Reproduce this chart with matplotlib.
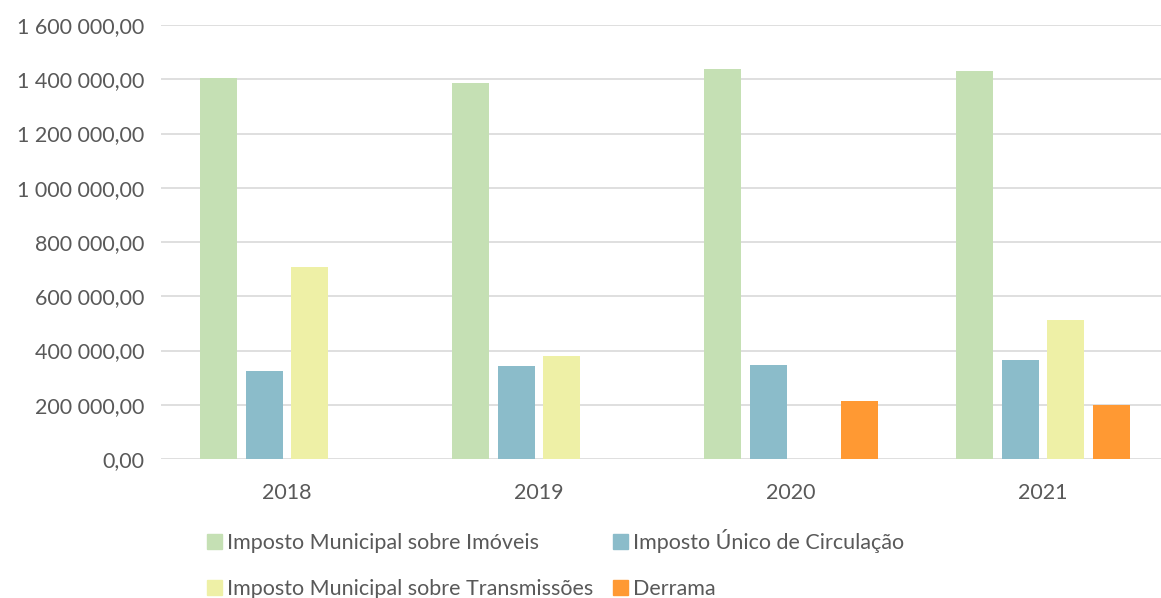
import numpy as np
import matplotlib.pyplot as plt
from matplotlib.ticker import FuncFormatter
from matplotlib.patches import Patch

years = ['2018', '2019', '2020', '2021']
series_names = ['Imposto Municipal sobre Imóveis', 'Imposto Único de Circulação',
                'Imposto Municipal sobre Transmissões', 'Derrama']
imi = [1405000, 1386000, 1438000, 1430000]
iuc = [324000, 343000, 346000, 365000]
imt = [708000, 380000, 0, 512000]
derrama = [0, 0, 214000, 199000]
colors = ['#C5E0B4', '#8BBCCA', '#EEF0A6', '#FF9933']

plt.rcParams['font.family'] = ['Lato', 'DejaVu Sans']

fig = plt.figure(figsize=(11.61, 5.98), dpi=100)
ax = fig.add_axes([161/1161, 1 - 459/598, 1008/1161, (459 - 25)/598])

x = np.arange(len(years))
width = 0.147
step = 0.181
for i, (vals, c) in enumerate(zip([imi, iuc, imt, derrama], colors)):
    ax.bar(x + (i - 1.5)*step, vals, width, color=c, zorder=3)

def fmt(v, p):
    return f'{v:,.2f}'.replace(',', ' ').replace('.', ',')

ax.set_xlim(-0.5, 3.5)
ax.set_ylim(0, 1600000)
ax.set_yticks(np.arange(0, 1600001, 200000))
ax.yaxis.set_major_formatter(FuncFormatter(fmt))
ax.set_xticks(x)
ax.set_xticklabels(years)
ax.grid(axis='y', color='#D9D9D9', lw=1.2, zorder=0)
for s in ax.spines.values():
    s.set_visible(False)
ax.tick_params(length=0, labelsize=15.5, colors='#595959', pad=12)
ax.tick_params(axis='x', pad=17)

# row-major order like the original legend
order = [0, 2, 1, 3]
handles = [Patch(color=colors[k]) for k in order]
labels = [series_names[k] for k in order]
fig.legend(handles, labels, loc='upper left', bbox_to_anchor=(196/1161, 1 - 518/598),
           ncol=2, frameon=False, fontsize=15.5, labelcolor='#595959',
           handlelength=0.7, handleheight=0.7, handletextpad=0.25,
           columnspacing=0.9, labelspacing=1.2, borderpad=0)

fig.savefig('out.png', dpi=100)
